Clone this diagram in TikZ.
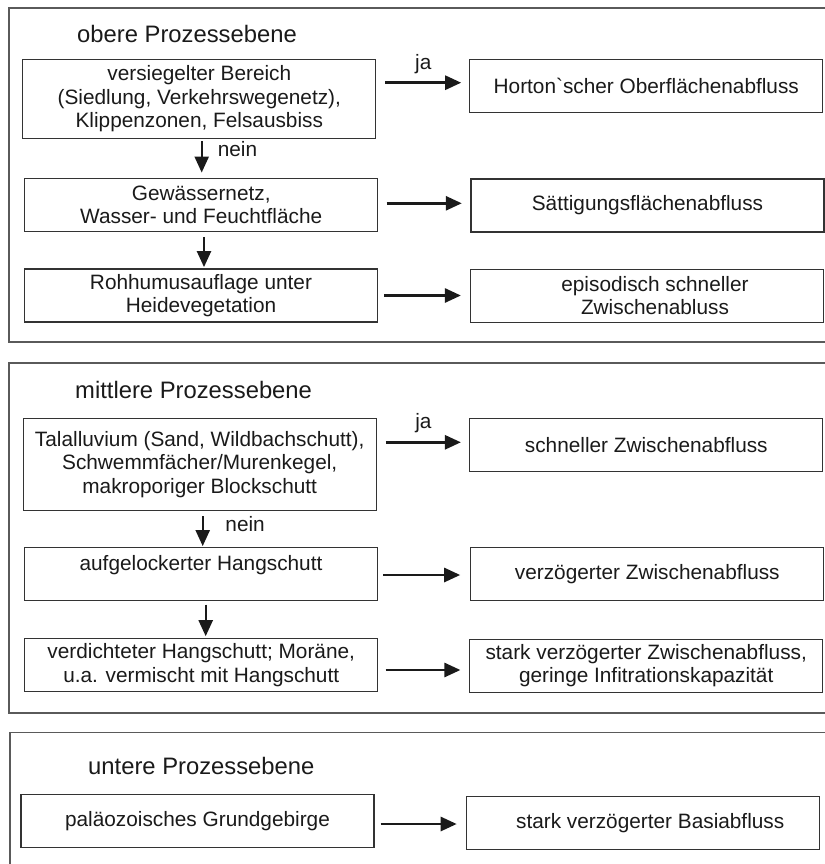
\documentclass[tikz,border=0pt]{standalone}
\usepackage{fontspec}
\newfontfamily\hvfont{Liberation Sans}
\usetikzlibrary{arrows.meta,calc}
\definecolor{ink}{HTML}{1A1A1A}
\definecolor{boxline}{HTML}{333333}
\definecolor{panelline}{HTML}{5A5A5A}
\newcommand{\myboxfont}{\hvfont\fontsize{20.8}{23.3}\selectfont}
\newcommand{\mytitlefont}{\hvfont\fontsize{23.8}{26}\selectfont}
\begin{document}
\begin{tikzpicture}[x=1pt,y=-1pt,
  box/.style={draw=boxline, line width=1.2pt, minimum width=353pt, minimum height=53pt,
    inner sep=0pt, align=center, font=\myboxfont, text=ink},
  title/.style={anchor=base west, inner sep=0pt, font=\mytitlefont, text=ink},
  panel/.style={draw=panelline, line width=1.6pt},
  arr/.style={draw=ink, line width=2.7pt, -{Triangle[length=16pt,width=14pt]}},
  varr/.style={draw=ink, line width=2.3pt, -{Triangle[length=16pt,width=14pt]}},
  lbl/.style={font=\myboxfont, text=ink, inner sep=0pt}]
\useasboundingbox (0,0) rectangle (824,864);
\fill[white] (0,0) rectangle (824,864);

% panels
\draw[panel] (9,8) rectangle (840,342);
\draw[panel] (9,363) rectangle (840,712.7);
\draw[panel] (10,732.3) rectangle (840,880);

% titles
\node[title] (t1) at (77,42.3) {obere Prozessebene};
\node[title] (t2) at (75,398.3) {mittlere Prozessebene};
\node[title] (t3) at (88,774) {untere Prozessebene};

% upper level
\node[box, minimum height=79pt] (A) at (199.3,98.8) {versiegelter Bereich\\(Siedlung, Verkehrswegenetz),\\Klippenzonen, Felsausbiss};
\node[box] (B) at (201.2,204.7) {Gewässernetz,\\Wasser- und Feuchtfläche};
\node[box] (C) at (201,295.5) {Rohhumusauflage unter\\Heidevegetation};
\node[box] (D) at (646.3,85.7) {Horton`scher Oberflächenabfluss};
\node[box] (E) at (647.5,205.5) {Sättigungsflächenabfluss};
\node[box] (F) at (647,295.7) {\hspace*{16pt}episodisch schneller\\\hspace*{16pt}Zwischenabluss};

% middle level
\node[box, minimum height=92.4pt] (G) at (199.7,464.5) {Talalluvium (Sand, Wildbachschutt),\\Schwemmfächer/Murenkegel,\\makroporiger Blockschutt};
\node[box] (H) at (201,574.2) {aufgelockerter Hangschutt\\\mbox{}};
\node[box] (I) at (201.2,665) {verdichteter Hangschutt; Moräne,\\u.a. vermischt mit Hangschutt};
\node[box] (J) at (646.3,445) {schneller Zwischenabfluss};
\node[box] (K) at (647.3,573.8) {verzögerter Zwischenabfluss};
\node[box] (L) at (646.2,665.8) {stark verzögerter Zwischenabfluss,\\geringe Infitrationskapazität};

% lower level
\node[box] (M) at (197.5,820.7) {paläozoisches Grundgebirge};
\node[box] (N) at (643.2,822.8) {\hspace*{14pt}stark verzögerter Basiabfluss};

% horizontal arrows
\draw[arr] ([xshift=9pt,yshift=3pt]A.east |- D.west) -- ([xshift=-8pt,yshift=3pt]D.west)
  node[lbl, midway, above=8pt] (ja1) {ja};
\draw[arr] ([xshift=8.3pt,yshift=1.4pt]B.east) -- ([xshift=-8.6pt,yshift=1.4pt]B.east -| E.west);
\draw[arr] ([xshift=6.3pt]C.east) -- ([xshift=-9pt]C.east -| F.west);
\draw[arr] ([xshift=9pt,yshift=2.7pt]G.east |- J.west) -- ([xshift=-8.3pt,yshift=2.7pt]J.west)
  node[lbl, midway, above=8pt] (ja2) {ja};
\draw[arr] ([xshift=5.3pt,yshift=-0.8pt]H.east) -- ([xshift=-10pt,yshift=-0.8pt]H.east -| K.west);
\draw[arr] ([xshift=7.3pt,yshift=-5pt]I.east) -- ([xshift=-8.7pt,yshift=-5pt]I.east -| L.west);
\draw[arr] ([xshift=6pt,yshift=-1.2pt]M.east |- N.west) -- ([xshift=-9.4pt,yshift=-1.2pt]N.west);

% vertical arrows
\draw[varr] ([xshift=0.5pt,yshift=-2.4pt]B.north |- A.south) -- ([xshift=0.5pt,yshift=5pt]B.north)
  node[lbl, midway, anchor=base west, xshift=15pt] (nein1) {nein};
\draw[varr] ([xshift=3pt,yshift=-5pt]C.north |- B.south) -- ([xshift=3pt,yshift=1.3pt]C.north);
\draw[varr] ([xshift=1.7pt,yshift=-5pt]H.north |- G.south) -- ([xshift=1.7pt,yshift=1pt]H.north)
  node[lbl, midway, anchor=base west, xshift=21.6pt] (nein2) {nein};
\draw[varr] ([xshift=4.5pt,yshift=-3.3pt]I.north |- H.south) -- ([xshift=4.5pt,yshift=1.7pt]I.north);
\end{tikzpicture}
\end{document}
